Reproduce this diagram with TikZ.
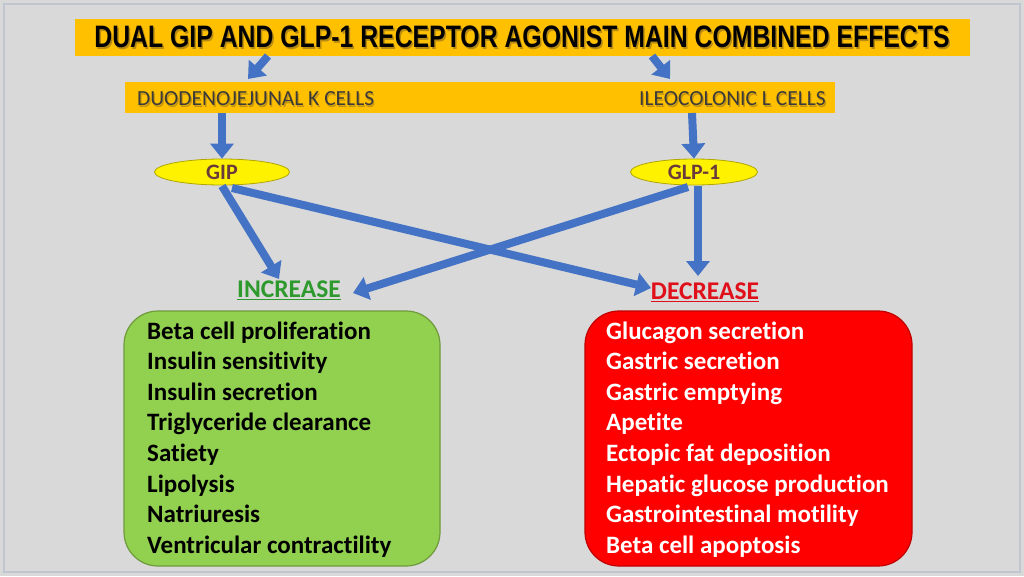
\documentclass[tikz,border=0pt]{standalone}
\usepackage{fontspec}
\setmainfont{Carlito}[Ligatures={NoCommon}]
\newfontfamily\titlefont{Liberation Sans}
\usetikzlibrary{arrows.meta,shapes.geometric}
\definecolor{bg}{HTML}{D9D9D9}
\definecolor{bgedge}{HTML}{BFC6CE}
\definecolor{orangebar}{HTML}{FFC000}
\definecolor{arrowblue}{HTML}{4472C4}
\definecolor{boxgreen}{HTML}{92D050}
\definecolor{edgegreen}{HTML}{6E9A3C}
\definecolor{boxred}{HTML}{FF0000}
\definecolor{edgered}{HTML}{C00000}
\definecolor{labgreen}{HTML}{2E9A2E}
\definecolor{labred}{HTML}{E0101A}
\definecolor{hormone}{HTML}{6A3B3B}
\definecolor{bartext}{HTML}{3A3A3A}
\definecolor{shadowc}{HTML}{8A6A20}
\tikzset{
  barbox/.style={fill=orangebar, draw=none, inner sep=0pt},
  blarrow/.style={draw=arrowblue, line width=8pt, -{Triangle[length=15pt,width=23pt]}},
  hormonenode/.style={ellipse, fill=yellow, draw=olive!70!yellow, line width=0.8pt, minimum width=135pt, minimum height=26pt, inner sep=0pt, font=\fontsize{22}{26}\selectfont\bfseries, text=hormone},
  effectbox/.style={rounded corners=34pt, line width=1.2pt, minimum width=316pt, minimum height=255pt, inner sep=0pt},
  efftext/.style={anchor=base west, inner sep=0pt, font=\fontsize{25}{29}\selectfont\bfseries},
  barlabel/.style={inner sep=0pt, font=\fontsize{21.5}{25}\selectfont, text=bartext},
  titlelabel/.style={inner sep=0pt, font=\titlefont\fontsize{31}{34}\selectfont\bfseries},
  headlabel/.style={inner sep=0pt, font=\fontsize{25.5}{30}\selectfont\bfseries}
}
\newcommand{\titlestr}{\scalebox{0.80}[1]{DUAL GIP AND GLP-1 RECEPTOR AGONIST MAIN COMBINED EFFECTS}}
\begin{document}
\begin{tikzpicture}[x=1pt,y=-1pt]
\useasboundingbox (0,0) rectangle (1024,576);
\fill[bg] (0,0) rectangle (1024,576);
\draw[bgedge, line width=1.5pt] (4,4) rectangle (1020,572);

% title bar
\node[barbox, minimum width=895pt, minimum height=37pt] (title) at (522.5,37) {};
\node[titlelabel, text=shadowc, opacity=0.6] (titleshadow) at (523.5,38.5) {\titlestr};
\node[titlelabel] (titletext) at (522,37) {\titlestr};

% cells bar
\node[barbox, minimum width=710pt, minimum height=31pt] (cells) at (480,97.5) {};
\node[barlabel, anchor=west, text=shadowc, opacity=0.5] (kshadow) at (138.2,100.2) {DUODENOJEJUNAL K CELLS};
\node[barlabel, anchor=east, text=shadowc, opacity=0.5] (lshadow) at (827.2,100.2) {ILEOCOLONIC L CELLS};
\node[barlabel, anchor=west] (kcells) at (137,99) {DUODENOJEJUNAL K CELLS};
\node[barlabel, anchor=east] (lcells) at (826,99) {ILEOCOLONIC L CELLS};

% hormones
\node[hormonenode] (gip) at (222,172) {GIP};
\node[hormonenode, minimum width=127pt] (glp) at (694,172) {GLP-1};

% labels
\node[headlabel, text=labgreen] (inc) at (289,290) {\underline{INCREASE}};
\node[headlabel, text=labred] (dec) at (705,292) {\underline{DECREASE}};

% effect boxes
\node[effectbox, fill=boxgreen, draw=edgegreen] (green) at (282,438.5) {};
\node[effectbox, fill=boxred, draw=edgered, minimum width=327pt] (red) at (748.5,438.5) {};

\foreach \t [count=\i] in {Beta cell proliferation, Insulin sensitivity, Insulin secretion, Triglyceride clearance, Satiety, Lipolysis, Natriuresis, Ventricular contractility}
  \node[efftext, text=black] (g\i) at (147,{339+30.6*(\i-1)}) {\t};
\foreach \t [count=\i] in {Glucagon secretion, Gastric secretion, Gastric emptying, Apetite, Ectopic fat deposition, Hepatic glucose production, Gastrointestinal motility, Beta cell apoptosis}
  \node[efftext, text=white] (r\i) at (606,{339+30.6*(\i-1)}) {\t};

% connector endpoints
\coordinate (tl) at (268,56);
\coordinate (cl) at (248,79);
\coordinate (tr) at (652,56);
\coordinate (cr) at (670,79);
\coordinate (kb) at (222,113);
\coordinate (lb) at (692,113);
\coordinate (gipa) at (222,186);
\coordinate (gipb) at (232,188);
\coordinate (glpa) at (688,187);
\coordinate (glpb) at (698,186);
\coordinate (inca) at (279,279);
\coordinate (incb) at (353,293);
\coordinate (deca) at (651,288);
\coordinate (decb) at (698,276);

\draw[blarrow] (tl) -- (cl);
\draw[blarrow] (tr) -- (cr);
\draw[blarrow] (kb) -- (gip.north);
\draw[blarrow] (lb) -- (glp.north);
\draw[blarrow] (gipa) -- (inca);
\draw[blarrow] (gipb) -- (deca);
\draw[blarrow] (glpa) -- (incb);
\draw[blarrow] (glpb) -- (decb);
\end{tikzpicture}
\end{document}
